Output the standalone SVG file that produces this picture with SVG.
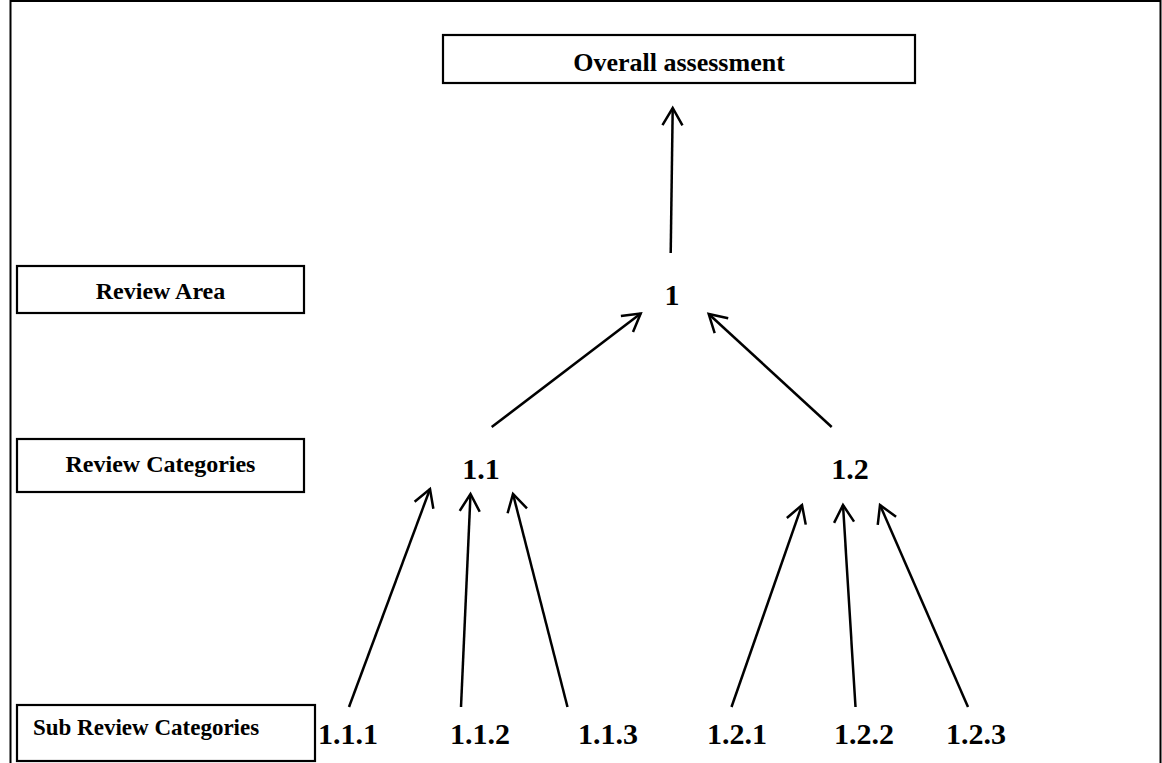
<svg xmlns="http://www.w3.org/2000/svg" width="1162" height="763" viewBox="0 0 1162 763">
<style>
.box{fill:#fff;stroke:#000;stroke-width:2.2}
.t{font-family:"Liberation Serif","Times New Roman",serif;font-weight:bold;fill:#000}
.lbl{font-size:24px;text-anchor:middle}
.num{font-size:30px}
.c line{stroke:#000;stroke-width:2.5;marker-end:url(#ah)}
</style>
<defs>
<marker id="ah" markerUnits="userSpaceOnUse" markerWidth="40" markerHeight="40" viewBox="-20 -20 40 40" refX="0" refY="0" orient="auto" overflow="visible">
<path d="M-17.3,-10 L0,0 L-17.3,10" fill="none" stroke="#000" stroke-width="2.5" stroke-linecap="butt" stroke-linejoin="miter"/>
</marker>
</defs>
<rect x="0" y="0" width="1162" height="763" fill="#fff"/>
<rect x="10.5" y="1" width="1150" height="775" fill="none" stroke="#000" stroke-width="2"/>
<g id="overall">
<rect class="box" x="443" y="35" width="472" height="48"/>
<text class="t" x="679" y="71" font-size="26" text-anchor="middle">Overall assessment</text>
</g>
<g id="review-area">
<rect class="box" x="17" y="266" width="287" height="47"/>
<text class="t lbl" x="160.5" y="299">Review Area</text>
</g>
<g id="review-categories">
<rect class="box" x="17" y="439" width="287" height="53"/>
<text class="t lbl" x="160.5" y="472">Review Categories</text>
</g>
<g id="sub-review-categories">
<rect class="box" x="17" y="705" width="298" height="56"/>
<text class="t" x="33" y="735" font-size="23">Sub Review Categories</text>
</g>
<g id="n1"><text class="t num" x="672" y="305" text-anchor="middle">1</text></g>
<g id="n1-1"><text class="t num" x="481" y="479" text-anchor="middle">1.1</text></g>
<g id="n1-2"><text class="t num" x="850" y="479" text-anchor="middle">1.2</text></g>
<g id="n1-1-1"><text class="t num" x="318" y="744">1.1.1</text></g>
<g id="n1-1-2"><text class="t num" x="450" y="744">1.1.2</text></g>
<g id="n1-1-3"><text class="t num" x="578" y="744">1.1.3</text></g>
<g id="n1-2-1"><text class="t num" x="707" y="744">1.2.1</text></g>
<g id="n1-2-2"><text class="t num" x="834" y="744">1.2.2</text></g>
<g id="n1-2-3"><text class="t num" x="946" y="744">1.2.3</text></g>
<g id="connectors" class="c">
<line x1="670.7" y1="253" x2="672.7" y2="108"/>
<line x1="491.7" y1="427" x2="640.7" y2="313.5"/>
<line x1="831.7" y1="427" x2="708.7" y2="314"/>
<line x1="349" y1="707" x2="430" y2="489"/>
<line x1="461" y1="707" x2="470.5" y2="494"/>
<line x1="567.5" y1="707" x2="513" y2="494"/>
<line x1="731.5" y1="707" x2="802" y2="505"/>
<line x1="855.5" y1="707" x2="843" y2="505"/>
<line x1="968" y1="707" x2="880" y2="505"/>
</g>
</svg>
